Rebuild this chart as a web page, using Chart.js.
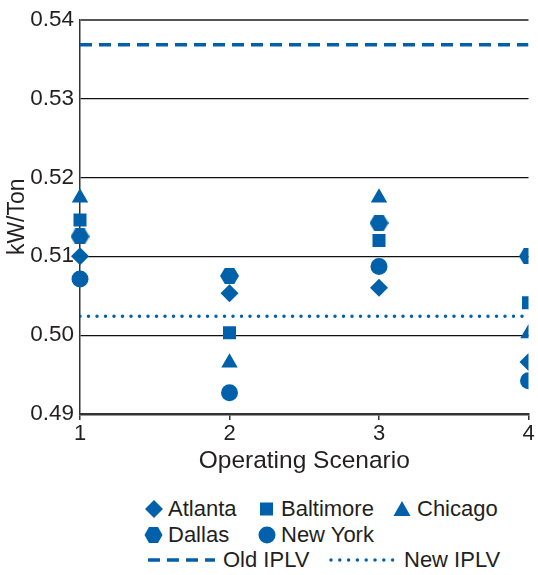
<html>

<head>
    <meta charset="utf-8">
    <title>kW/Ton by Operating Scenario</title>
    <script src="https://cdn.jsdelivr.net/npm/chart.js@4.4.1/dist/chart.umd.min.js"></script>
    <style>
        body { margin: 0; background: #fff; font-family: 'Liberation Sans', Arial, sans-serif; color: #231f20; }
        #wrap { position: relative; width: 538px; height: 575px; }
        #legend .item { position: absolute; font-size: 22px; line-height: 24px; white-space: nowrap; }
        #legend svg { position: absolute; }
    </style>
</head>

<body>
    <div id="wrap">
        <div style="width:538px;height:480px;">
            <canvas id="myChart" width="538" height="480"></canvas>
        </div>
        <div id="legend"></div>
    </div>
    <script>
        const BLUE = 'rgb(0, 97, 170)';

        // operating scenarios on the x axis
        const scenarios = [1, 2, 3, 4];
        const atlanta   = [0.5100, 0.5053, 0.5060, 0.4966];
        const baltimore = [0.5146, 0.5003, 0.5120, 0.5041];
        const chicago   = [0.5174, 0.4965, 0.5174, 0.5002];
        const dallas    = [0.5125, 0.5075, 0.5142, 0.5100];
        const newYork   = [0.5071, 0.4927, 0.5087, 0.4942];
        const oldIPLV = 0.5368;
        const newIPLV = 0.5024;
        const yTicks = [0.49, 0.50, 0.51, 0.52, 0.53, 0.54];

        // hexagon point style (no built-in one)
        function hexagon(w, h) {
            const c = document.createElement('canvas');
            c.width = w; c.height = h;
            const g = c.getContext('2d');
            g.fillStyle = BLUE;
            g.beginPath();
            g.moveTo(0, h / 2);
            g.lineTo(w * 0.25, 0);
            g.lineTo(w * 0.75, 0);
            g.lineTo(w, h / 2);
            g.lineTo(w * 0.75, h);
            g.lineTo(w * 0.25, h);
            g.closePath();
            g.fill();
            return c;
        }

        const pts = arr => scenarios.map((s, i) => ({ x: s, y: arr[i] }));
        const flat = v => [{ x: scenarios[0], y: v }, { x: scenarios[scenarios.length - 1], y: v }];
        // markers spill over the left axis but get cut at the right edge
        const CLIP = { left: false, top: false, right: 0, bottom: false };

        function cityDs(label, arr, style, radius) {
            return {
                label: label, data: pts(arr), pointStyle: style, pointRadius: radius,
                backgroundColor: BLUE, borderColor: BLUE, borderWidth: 0, showLine: false, clip: CLIP
            };
        }

        const data = {
            datasets: [
                cityDs('Atlanta', atlanta, 'rectRot', 9),
                cityDs('Baltimore', baltimore, 'rect', 9.2),
                cityDs('Chicago', chicago, 'triangle', 9.5),
                cityDs('Dallas', dallas, hexagon(19, 16), 9),
                cityDs('New York', newYork, 'circle', 8.5),
                {
                    label: 'Old IPLV', data: flat(oldIPLV), showLine: true, pointRadius: 0,
                    borderColor: BLUE, borderWidth: 3.5, borderDash: [12, 7]
                },
                {
                    label: 'New IPLV', data: flat(newIPLV), showLine: true, pointRadius: 0,
                    borderColor: BLUE, borderWidth: 3.5, borderDash: [0, 8.5], borderCapStyle: 'round'
                }
            ]
        };

        const config = {
            type: 'scatter',
            data: data,
            options: {
                responsive: false,
                animation: false,
                layout: { padding: { left: 0, right: 6, top: 10, bottom: 0 } },
                plugins: { legend: { display: false }, tooltip: { enabled: false } },
                scales: {
                    x: {
                        type: 'linear', min: 1, max: 4,
                        afterFit: s => { s.height = 66; s.paddingLeft = 0; s.paddingRight = 0; },
                        ticks: { stepSize: 1, color: '#231f20', font: { family: 'Liberation Sans', size: 22 }, padding: 1 },
                        grid: { drawOnChartArea: false, drawTicks: true, tickLength: 6, color: '#333', lineWidth: 1.5 },
                        border: { color: '#333', width: 2.5 },
                        title: { display: true, text: 'Operating Scenario', color: '#231f20', font: { family: 'Liberation Sans', size: 24.5 }, padding: { top: 0 } }
                    },
                    y: {
                        min: 0.49, max: 0.54,
                        afterBuildTicks: s => { s.ticks = yTicks.map(v => ({ value: v })); },
                        afterFit: s => { s.width = 80; },
                        ticks: { color: '#231f20', font: { family: 'Liberation Sans', size: 22.5 }, padding: 6, callback: v => v.toFixed(2) },
                        grid: {
                            drawTicks: false,
                            color: c => c.tick && c.tick.value >= 0.535 ? '#555' : '#111',
                            lineWidth: c => c.tick && c.tick.value >= 0.535 ? 2 : 1.2
                        },
                        border: { color: '#333', width: 1.5 },
                        title: { display: true, text: 'kW/Ton', color: '#231f20', font: { family: 'Liberation Sans', size: 23 }, padding: { bottom: 0 } }
                    }
                }
            }
        };
        const myChart = new Chart(document.getElementById('myChart'), config);

        // legend below the chart
        const legendItems = [
            { label: 'Atlanta', sym: 'diamond', x: 140, y: 509 },
            { label: 'Baltimore', sym: 'square', x: 253, y: 509 },
            { label: 'Chicago', sym: 'triangle', x: 389, y: 509 },
            { label: 'Dallas', sym: 'hexagon', x: 140, y: 535 },
            { label: 'New York', sym: 'circle', x: 253, y: 535 },
            { label: 'Old IPLV', sym: 'dash', x: 148, y: 560 },
            { label: 'New IPLV', sym: 'dot', x: 329, y: 560 }
        ];
        const shapes = {
            diamond: '<svg width="26" height="20" style="left:0;top:-10px"><polygon points="14,1 23,10 14,19 5,10" fill="' + BLUE + '"/></svg>',
            square: '<svg width="26" height="20" style="left:0;top:-10px"><rect x="7" y="3.5" width="13" height="13" fill="' + BLUE + '"/></svg>',
            triangle: '<svg width="26" height="20" style="left:0;top:-10px"><polygon points="13,2 21.5,17 4.5,17" fill="' + BLUE + '"/></svg>',
            hexagon: '<svg width="26" height="20" style="left:0;top:-10px"><polygon points="4.5,10 9,2 18,2 22.5,10 18,18 9,18" fill="' + BLUE + '"/></svg>',
            circle: '<svg width="26" height="20" style="left:0;top:-10px"><circle cx="14" cy="10" r="8.5" fill="' + BLUE + '"/></svg>',
            dash: '<svg width="70" height="8" style="left:0;top:-4px"><line x1="0" y1="4" x2="67" y2="4" stroke="' + BLUE + '" stroke-width="3.5" stroke-dasharray="12 7"/></svg>',
            dot: '<svg width="70" height="8" style="left:0;top:-4px"><line x1="2" y1="4" x2="64" y2="4" stroke="' + BLUE + '" stroke-width="3.5" stroke-linecap="round" stroke-dasharray="0 8.8"/></svg>'
        };
        const legend = document.getElementById('legend');
        for (const it of legendItems) {
            const d = document.createElement('div');
            d.className = 'item';
            d.style.left = it.x + 'px';
            d.style.top = (it.y - 12) + 'px';
            const off = (it.sym === 'dash' || it.sym === 'dot') ? 75 : 28;
            d.innerHTML = '<span style="position:absolute;left:0;top:12px;">' + shapes[it.sym] + '</span>' +
                '<span style="margin-left:' + off + 'px">' + it.label + '</span>';
            legend.appendChild(d);
        }
    </script>
</body>

</html>
